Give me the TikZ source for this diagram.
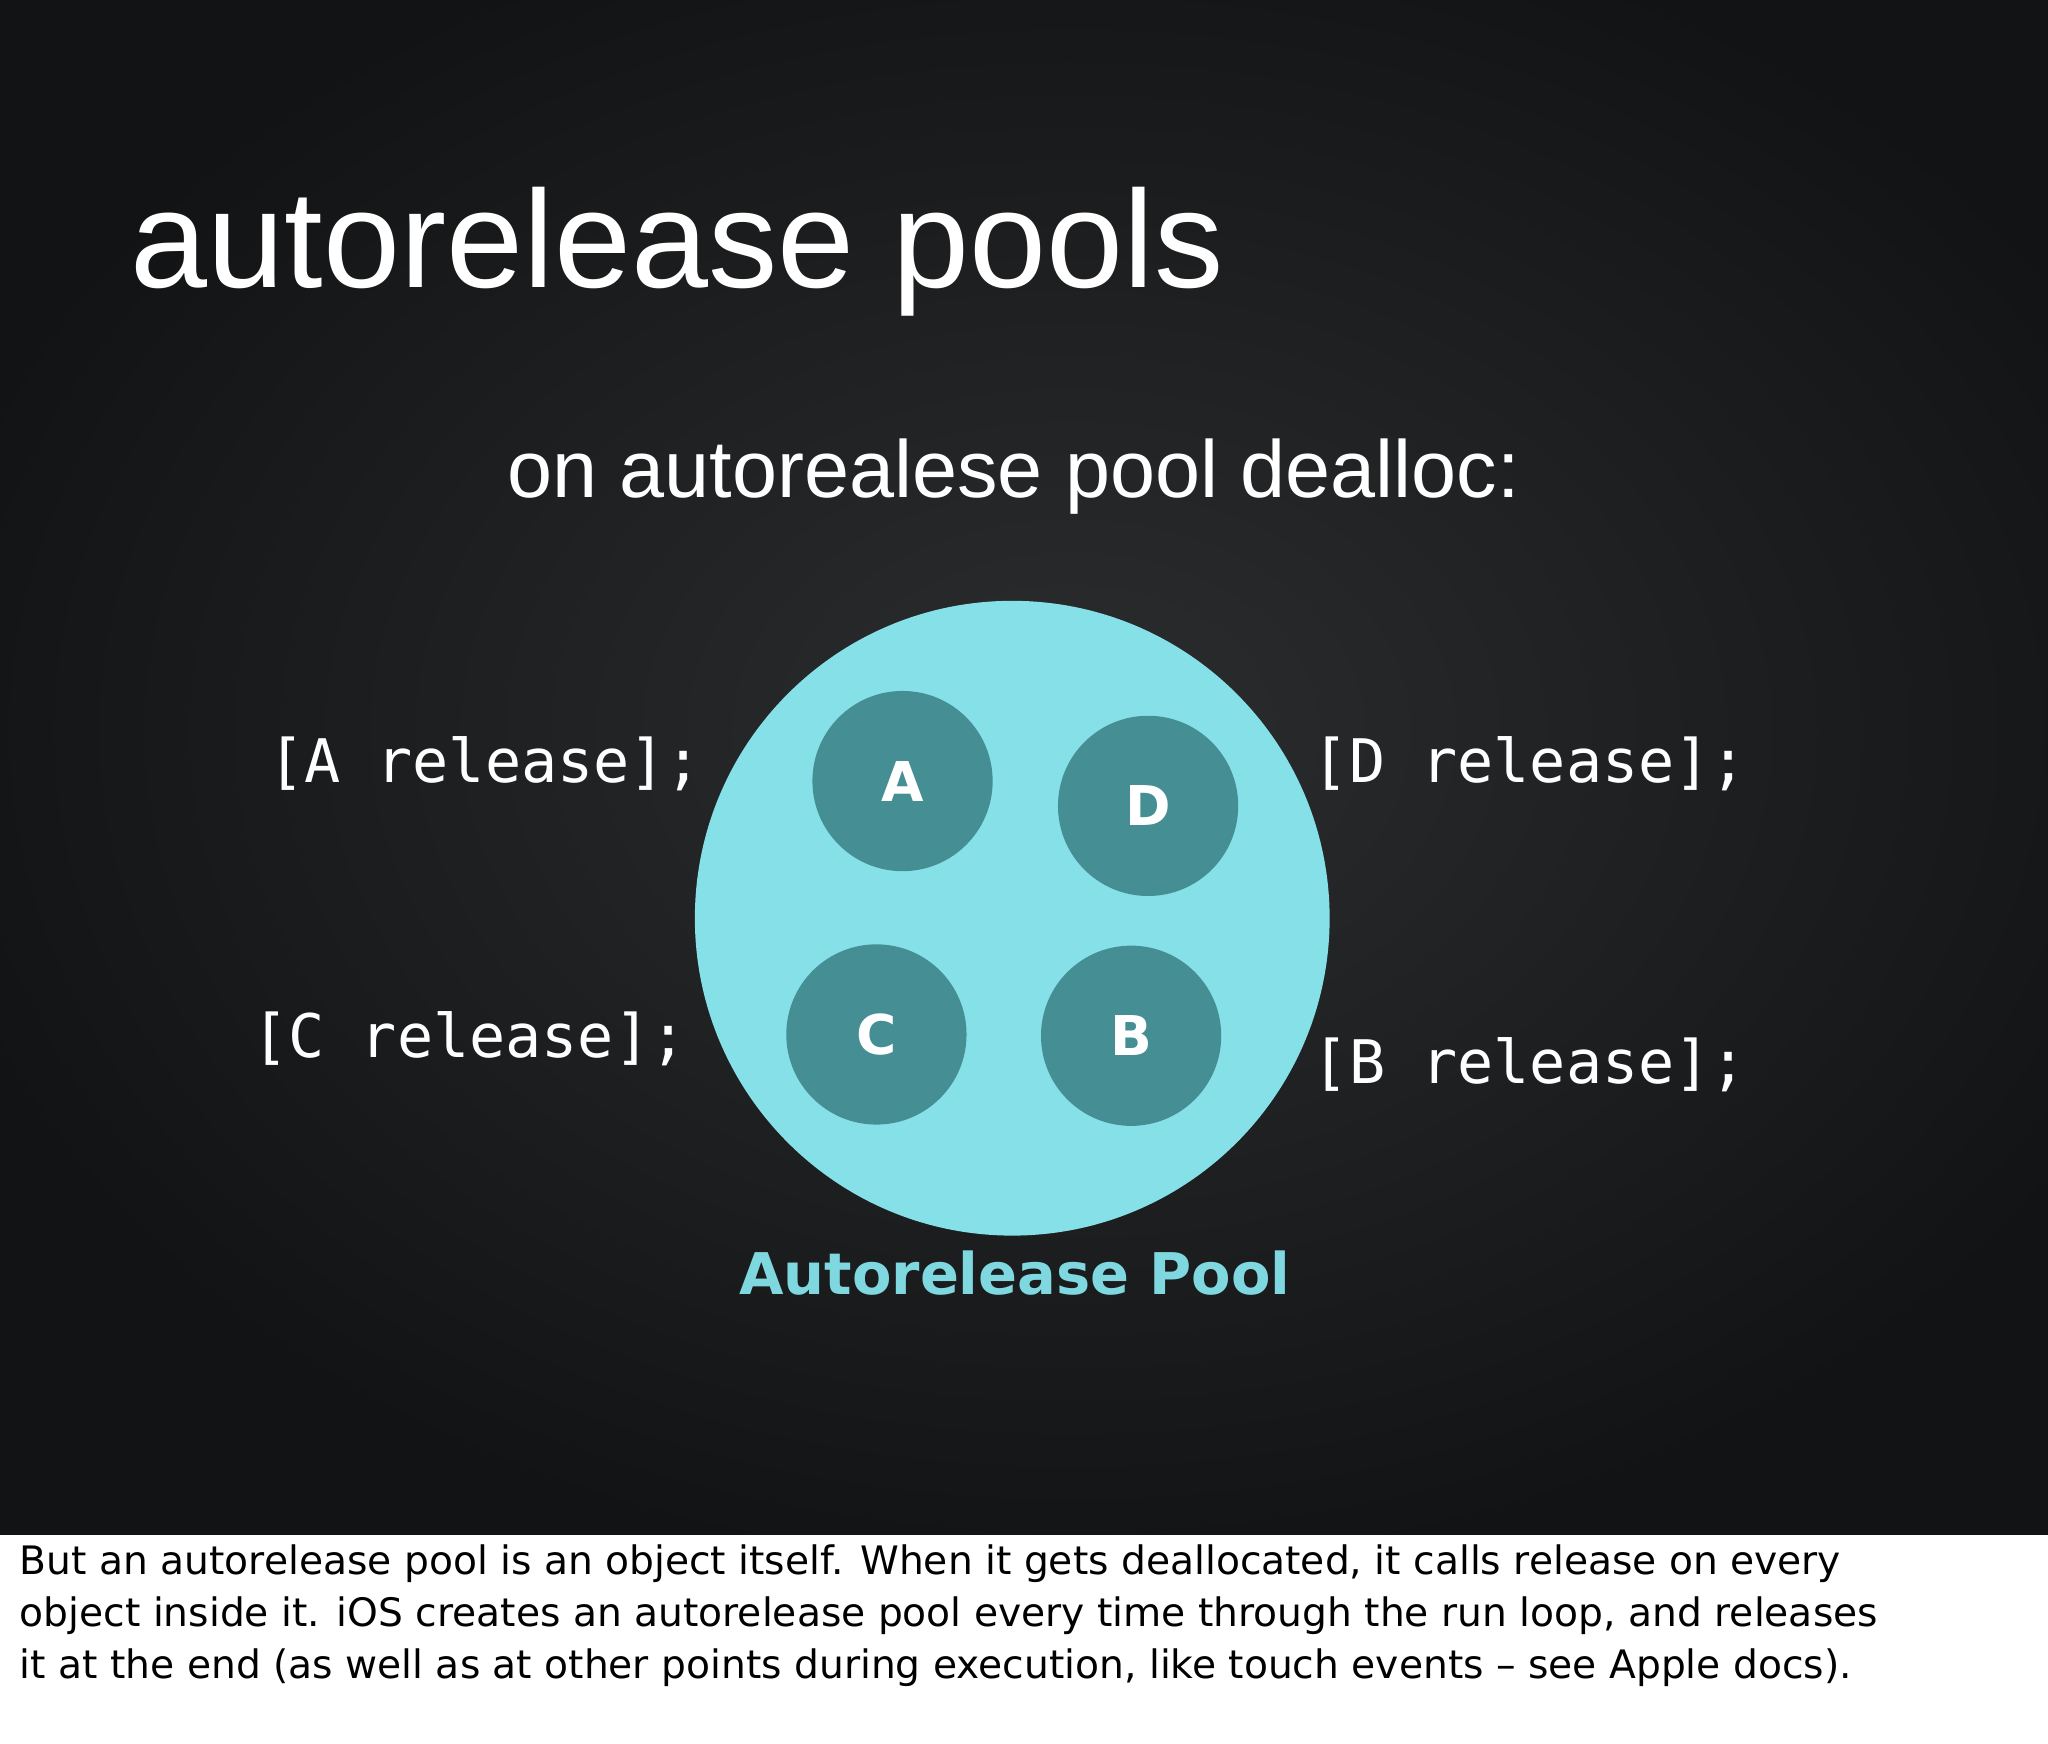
\documentclass[tikz,border=0pt]{standalone}
\usepackage{fontspec}
\setmainfont{Liberation Sans}
\newfontfamily\codefont{DejaVu Sans Mono}
\newfontfamily\capfont{DejaVu Sans}
\definecolor{bgdark}{HTML}{121314}
\definecolor{bglight}{HTML}{2B2D2F}
\definecolor{pool}{HTML}{86E0E8}
\definecolor{obj}{HTML}{458E94}
\definecolor{pooltext}{HTML}{7FD8E0}
\tikzset{
  objc/.style={circle,fill=obj,minimum size=138pt,inner sep=0pt,text=white,font=\capfont\fontsize{42}{42}\selectfont\bfseries},
  code/.style={text=white,anchor=west,inner sep=0pt,font=\codefont\fontsize{46}{46}\selectfont},
  capline/.style={anchor=west,inner sep=0pt,font=\capfont\fontsize{30}{30}\selectfont}
}
\begin{document}
\begin{tikzpicture}[x=1pt,y=-1pt]
\useasboundingbox (0,0) rectangle (1568,1335);
\fill[bgdark] (0,0) rectangle (1568,1175);
\begin{scope}
\clip (0,0) rectangle (1568,1175);
\shade[inner color=bglight,outer color=bgdark] (820,560) ellipse (900pt and 650pt);
\end{scope}
\fill[white] (0,1175) rectangle (1568,1335);
\node[anchor=base west,text=white,inner sep=0pt,font=\fontsize{106}{106}\selectfont] (title) at (100,220) {autorelease pools};
\node[text=white,inner sep=0pt,font=\fontsize{62}{62}\selectfont] (sub) at (776,365) {on autorealese pool dealloc:};
\node[circle,fill=pool,minimum size=486pt,inner sep=0pt] (pool) at (775,703) {};
\node[objc] (A) at (691,598) {A};
\node[objc] (D) at (879,617) {D};
\node[objc] (C) at (671,792) {C};
\node[objc] (B) at (866,793) {B};
\node[text=pooltext,inner sep=0pt,font=\capfont\fontsize{44}{44}\selectfont\bfseries] (lbl) at (777,975) {Autorelease Pool};
\node[code] (ra) at (205,585) {[A release];};
\node[code] (rc) at (193,795) {[C release];};
\node[code] (rd) at (1005,585) {[D release];};
\node[code] (rb) at (1005,815) {[B release];};
\node[capline] (l1) at (15,1197) {But an autorelease pool is an object itself. When it gets deallocated, it calls release on every};
\node[capline] (l2) at (15,1237) {object inside it. iOS creates an autorelease pool every time through the run loop, and releases};
\node[capline] (l3) at (15,1277) {it at the end (as well as at other points during execution, like touch events – see Apple docs).};
\end{tikzpicture}
\end{document}
